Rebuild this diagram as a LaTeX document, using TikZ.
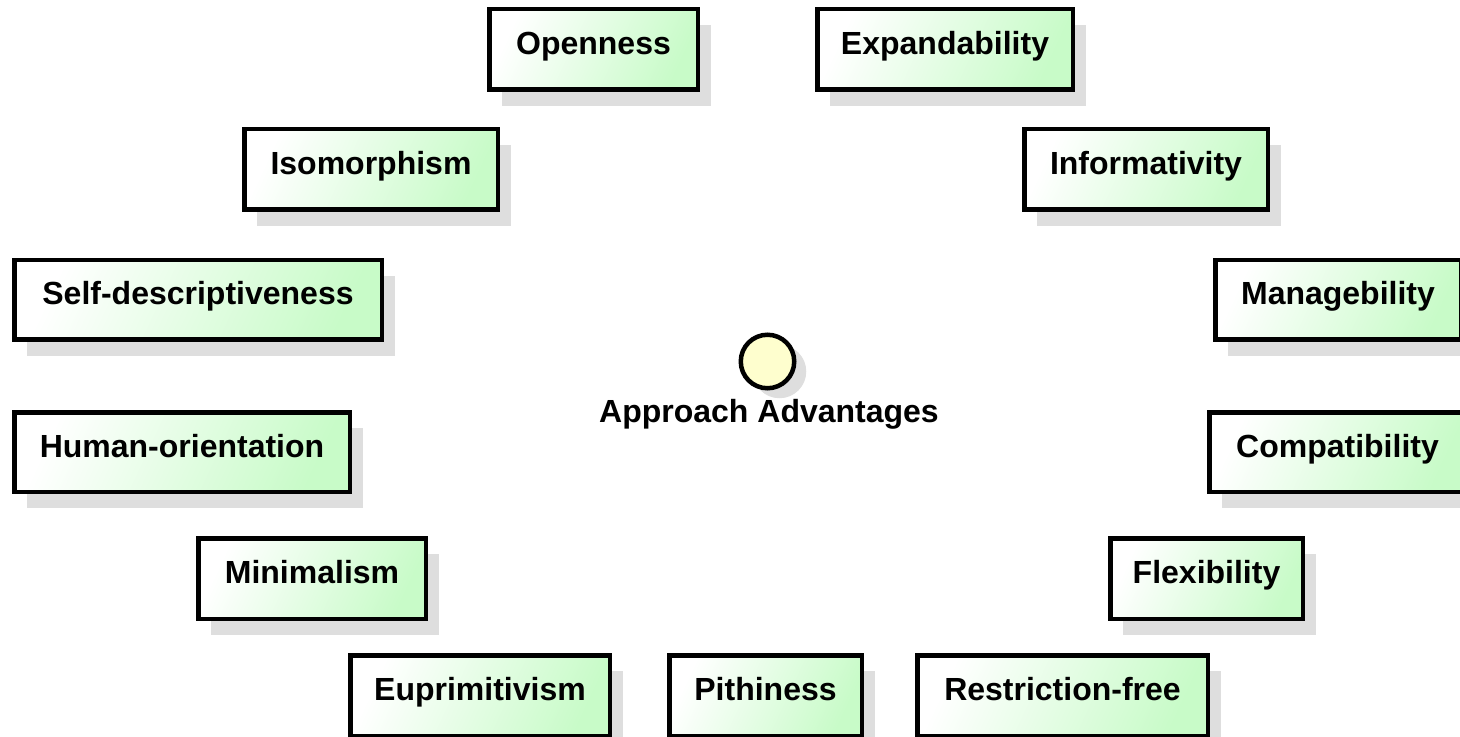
\documentclass[tikz,border=0pt]{standalone}
\usepackage{fontspec}
\setmainfont{Liberation Sans}
\usetikzlibrary{shadows}
\definecolor{boxgreen}{RGB}{200,251,200}
\definecolor{shadowgray}{RGB}{222,222,222}
\definecolor{circfill}{RGB}{254,254,206}
\newcommand{\featbox}[6]{%
  \node[feat, minimum width={(#3-#2-4.5)*0.5pt}, minimum height={(#5-#4-4.5)*0.5pt}]
    (#1) at ({(#2+#3)/2},{(#4+#5)/2}) {#6};}
\begin{document}
\begin{tikzpicture}[x=0.5pt,y=-0.5pt,
  labelfont/.style={font=\fontsize{16pt}{19pt}\selectfont\bfseries},
  softshadow/.style={drop shadow={shadow xshift=6.5pt, shadow yshift=-8pt, fill=shadowgray, opacity=1}},
  feat/.style={rectangle, draw=black, line width=2.25pt, inner sep=0pt,
    top color=white, bottom color=boxgreen, shading angle=65,
    labelfont, text height=10pt, text depth=5pt, softshadow},
  hub/.style={circle, draw=black, line width=2.25pt, fill=circfill, inner sep=0pt,
    minimum size=26.75pt,
    drop shadow={shadow xshift=6pt, shadow yshift=-5pt, fill=shadowgray, opacity=1}}]
\useasboundingbox (0,0) rectangle (1460,737);
\featbox{openness}{487}{700}{7}{92}{Openness}
\featbox{expand}{815}{1075}{7}{92}{Expandability}
\featbox{iso}{242}{500}{127}{212}{Isomorphism}
\featbox{inform}{1022}{1270}{127}{212}{Informativity}
\featbox{selfdesc}{12}{384}{258}{342}{Self-descriptiveness}
\featbox{manage}{1213}{1463}{258}{342}{Managebility}
\featbox{human}{12}{352}{410}{494}{Human-orientation}
\featbox{compat}{1207}{1468}{410}{494}{Compatibility}
\featbox{minimal}{196}{428}{536}{621}{Minimalism}
\featbox{flex}{1108}{1305}{536}{621}{Flexibility}
\featbox{eupri}{348}{612}{653}{738}{Euprimitivism}
\featbox{pith}{667}{864}{653}{738}{Pithiness}
\featbox{restrict}{915}{1210}{653}{738}{Restriction-free}
\node[hub] (hubcircle) at (767.5,361.5) {};
\node[labelfont, anchor=base, inner sep=0pt] (hublabel) at (769,422) {Approach Advantages};
\end{tikzpicture}
\end{document}
